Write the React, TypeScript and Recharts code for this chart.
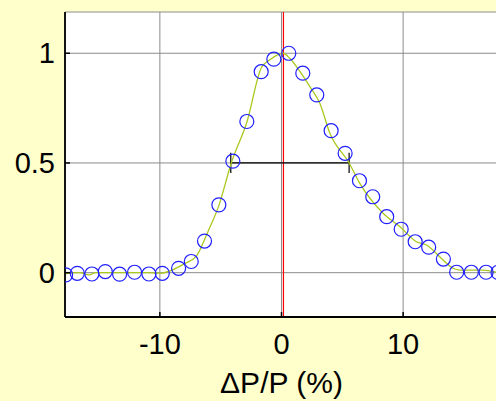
import { ComposedChart, Line, Scatter, XAxis, YAxis, CartesianGrid, ReferenceLine } from 'recharts'

// measured samples (blue circles)
const SAMPLE_X = [
  -17.75, -16.79, -15.59, -14.49, -13.31, -12.08, -10.9, -9.8, -8.46, -7.42, -6.33, -5.15, -4.0, -2.85, -1.67, -0.63,
  0.6, 1.75, 2.9, 4.08, 5.23, 6.41, 7.5, 8.65, 9.84, 10.99, 12.1, 13.31, 14.4, 15.61, 16.82, 17.8,
]
const SAMPLE_Y = [
  -0.01, -0.003, -0.006, 0.005, -0.007, 0.002, -0.006, -0.003, 0.02, 0.051, 0.144, 0.309, 0.508, 0.689, 0.916, 0.973,
  1.0, 0.909, 0.81, 0.647, 0.544, 0.419, 0.346, 0.255, 0.198, 0.141, 0.116, 0.062, 0.002, 0.002, 0.002, 0.001,
]

// smoothed fit (yellow-green line)
const FIT_X = [
  -17.8, -16.6, -15.8, -15.3, -11.2, -9.9, -9.0, -8.0, -7.0, -6.05, -5.13, -4.13, -2.83, -1.65, -0.96, 0.13, 0.68,
  1.23, 2.33, 3.15, 3.97, 5.56, 6.44, 8.35, 9.72, 11.1, 11.92, 13.28, 14.1, 14.66, 16.57, 17.8,
]
const FIT_Y = [
  -0.005, 0, -0.01, 0, 0, -0.002, 0.012, 0.04, 0.075, 0.187, 0.309, 0.5, 0.689, 0.935, 0.97, 1.0, 0.977, 0.939,
  0.848, 0.772, 0.637, 0.5, 0.407, 0.271, 0.21, 0.141, 0.126, 0.058, 0.02, 0.012, 0.012, 0,
]

const X_TICKS = [-10, 0, 10]
const Y_TICKS = [0, 0.5, 1]

// annotations: centre marker and FWHM bar
const CENTER_X = 0.16
const FWHM_LEFT = -4.17
const FWHM_RIGHT = 5.56
const HALF = 0.5

const samples = SAMPLE_X.map((x, i) => ({ x, y: SAMPLE_Y[i] }))
const fit = FIT_X.map((x, i) => ({ x, y: FIT_Y[i] }))

const FONT = '"Liberation Sans", Arial, sans-serif'

const LeftTick = ({ x, y, payload }: any) => (
  <g>
    <line x1={x} y1={y} x2={x + 5} y2={y} stroke="#000" strokeWidth={1.5} />
    <text x={x - 10} y={y} textAnchor="end" dominantBaseline="central" fontSize={29} fontFamily={FONT} fill="#000">
      {payload.value}
    </text>
  </g>
)

const BottomTick = ({ x, y, payload }: any) => (
  <g>
    <line x1={x} y1={y} x2={x} y2={y - 5} stroke="#000" strokeWidth={1.5} />
    <text x={x} y={y + 27} textAnchor="middle" dominantBaseline="central" fontSize={29} fontFamily={FONT} fill="#000">
      {payload.value}
    </text>
  </g>
)

const TopTick = ({ x, y }: any) => <line x1={x} y1={y} x2={x} y2={y + 5} stroke="#000" strokeWidth={1.5} />
const RightTick = ({ x, y }: any) => <line x1={x} y1={y} x2={x - 5} y2={y} stroke="#000" strokeWidth={1.5} />

const XLabel = (props: any) => {
  const vb = props.viewBox || { x: 65, y: 317, width: 433 }
  return (
    <text x={vb.x + vb.width / 2} y={vb.y + 76} textAnchor="middle" fontSize={30} fontFamily={FONT} fill="#000">
      ΔP/P (%)
    </text>
  )
}

const Ring = ({ cx, cy }: any) => <circle cx={cx} cy={cy} r={7} fill="none" stroke="#1f1fff" strokeWidth={1.2} />

export default function App() {
  return (
    <div style={{ position: 'fixed', left: 0, top: 0, width: 496, height: 401, overflow: 'hidden', background: '#ffffcc' }}>
      <ComposedChart width={500} height={401} margin={{ top: 12, right: 2, bottom: 0, left: 0 }}>
        <CartesianGrid stroke="#8c8c8c" strokeWidth={1} fill="#fff" fillOpacity={1} />
        <XAxis
          dataKey="x"
          type="number"
          domain={[-17.8, 17.8]}
          ticks={X_TICKS}
          allowDataOverflow
          height={84}
          tickSize={0}
          tickMargin={0}
          tick={<BottomTick />}
          axisLine={{ stroke: '#000', strokeWidth: 1.8 }}
          label={<XLabel />}
        />
        <XAxis
          xAxisId="top"
          orientation="top"
          type="number"
          domain={[-17.8, 17.8]}
          ticks={X_TICKS}
          allowDataOverflow
          height={0}
          tickSize={0}
          tickMargin={0}
          tick={<TopTick />}
          axisLine={{ stroke: '#000', strokeWidth: 1.8 }}
        />
        <YAxis
          dataKey="y"
          type="number"
          domain={[-0.202, 1.188]}
          ticks={Y_TICKS}
          allowDataOverflow
          width={65}
          tickSize={0}
          tickMargin={0}
          tick={<LeftTick />}
          axisLine={{ stroke: '#000', strokeWidth: 1.8 }}
        />
        <YAxis
          yAxisId="right"
          orientation="right"
          type="number"
          domain={[-0.202, 1.188]}
          ticks={Y_TICKS}
          allowDataOverflow
          width={0}
          tickSize={0}
          tickMargin={0}
          tick={<RightTick />}
          axisLine={{ stroke: '#000', strokeWidth: 1.8 }}
        />
        <ReferenceLine x={CENTER_X} stroke="#ff0000" strokeWidth={1.2} />
        <ReferenceLine segment={[{ x: FWHM_LEFT, y: HALF }, { x: FWHM_RIGHT, y: HALF }]} stroke="#000" strokeWidth={1.2} />
        <ReferenceLine segment={[{ x: FWHM_LEFT, y: HALF - 0.046 }, { x: FWHM_LEFT, y: HALF + 0.046 }]} stroke="#000" strokeWidth={1.2} />
        <ReferenceLine segment={[{ x: FWHM_RIGHT, y: HALF - 0.046 }, { x: FWHM_RIGHT, y: HALF + 0.046 }]} stroke="#000" strokeWidth={1.2} />
        <Line data={fit} dataKey="y" type="monotone" stroke="#a8c81e" strokeWidth={1.3} dot={false} isAnimationActive={false} />
        <Scatter data={samples} dataKey="y" shape={<Ring />} isAnimationActive={false} />
      </ComposedChart>
    </div>
  )
}
